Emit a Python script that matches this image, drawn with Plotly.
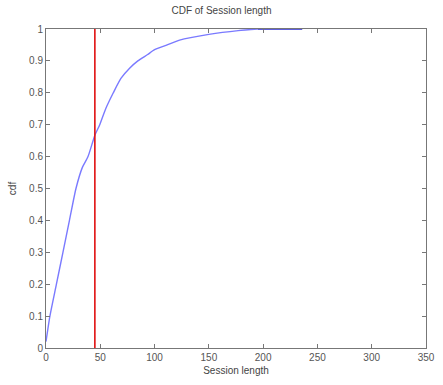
import plotly.graph_objects as go

session_len = [0, 3.6, 9.6, 15.6, 21.6, 27.6, 33.6, 38.7, 45, 49.5, 55, 62, 69, 77, 84.6, 93.6, 100, 111.6, 123, 150, 177, 195]
cdf = [0.02, 0.1, 0.2, 0.3, 0.4, 0.5, 0.567, 0.6, 0.667, 0.7, 0.75, 0.8, 0.845, 0.877, 0.9, 0.92, 0.935, 0.95, 0.965, 0.983, 0.995, 1.0]
tail_x = [195, 236]
tail_y = [1.0, 1.0]
marker_x = [45, 45]
marker_y = [0, 1]

x_ticks = [0, 50, 100, 150, 200, 250, 300, 350]
y_ticks = [0, 0.1, 0.2, 0.3, 0.4, 0.5, 0.6, 0.7, 0.8, 0.9, 1]
y_labels = ["0", "0.1", "0.2", "0.3", "0.4", "0.5", "0.6", "0.7", "0.8", "0.9", "1"]

fig = go.Figure()
fig.add_trace(go.Scatter(x=session_len, y=cdf, mode="lines",
                         line=dict(color="#7a7aff", width=1.4, shape="spline", smoothing=0.6),
                         showlegend=False))
fig.add_trace(go.Scatter(x=tail_x, y=tail_y, mode="lines",
                         line=dict(color="#2a2ad0", width=1.6), showlegend=False))
fig.add_trace(go.Scatter(x=marker_x, y=marker_y, mode="lines",
                         line=dict(color="#e01010", width=1.6), showlegend=False))

axis_common = dict(showgrid=False, zeroline=False, showline=True, linecolor="#777",
                   linewidth=1, mirror="ticks", ticks="inside", ticklen=4,
                   tickcolor="#777", ticklabeloverflow="allow",
                   tickfont=dict(family="Liberation Sans, Arial", size=10, color="#555"))

fig.update_layout(
    width=443, height=385,
    margin=dict(l=46, r=8, t=29, b=37),
    plot_bgcolor="white", paper_bgcolor="white",
    title=dict(text="CDF of Session length", x=0.5, xanchor="center", y=0.972, yanchor="middle",
               font=dict(family="Liberation Sans, Arial", size=10, color="#444")),
    xaxis=dict(range=[0, 350], tickvals=x_ticks,
               title=dict(text="Session length", standoff=4,
                          font=dict(family="Liberation Sans, Arial", size=10, color="#444")),
               **axis_common),
    yaxis=dict(range=[0, 1], tickvals=y_ticks, ticktext=y_labels,
               title=dict(text="cdf", standoff=10,
                          font=dict(family="Liberation Sans, Arial", size=10, color="#444")),
               **axis_common),
)

fig.write_html("out.html")
